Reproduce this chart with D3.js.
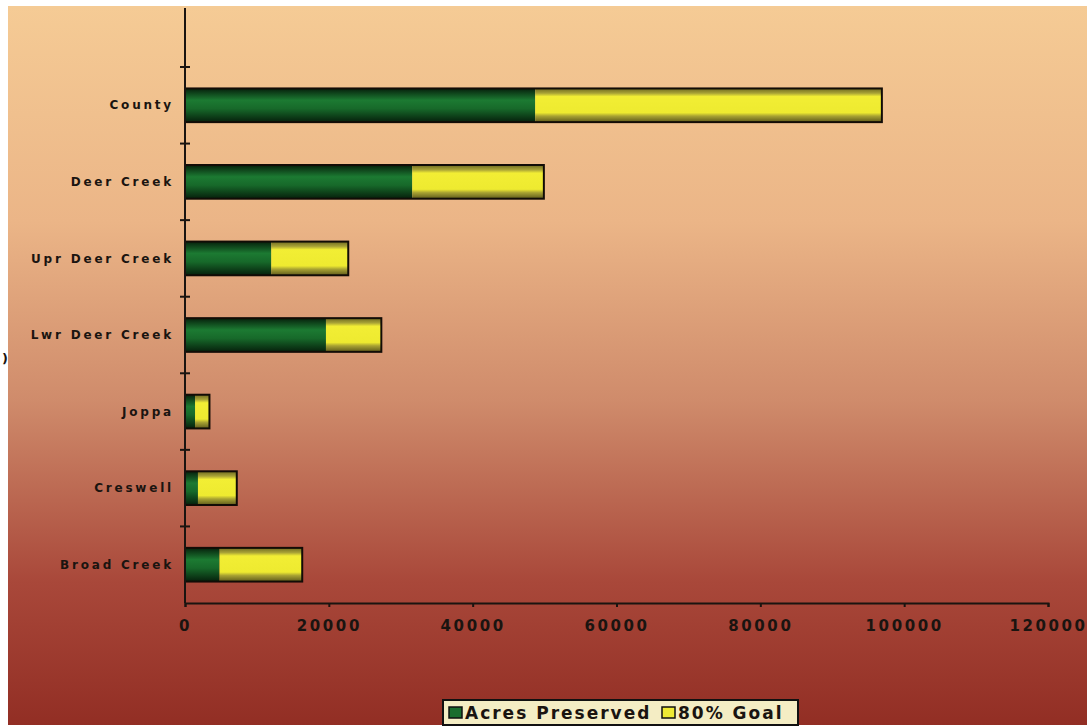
<!DOCTYPE html>
<html>
<head>
<meta charset="utf-8">
<script src="https://cdn.jsdelivr.net/npm/d3@7"></script>
<style>
  body { margin: 0; background: #fff; }
  svg { display: block; }
  text { font-family: "DejaVu Sans", sans-serif; font-weight: bold; fill: #1a1410; }
</style>
</head>
<body>
<svg id="chart" width="1087" height="727"></svg>
<script>
// data
var categories = ["County", "Deer Creek", "Upr Deer Creek", "Lwr Deer Creek", "Joppa", "Creswell", "Broad Creek"];
var acresPreserved = [48700, 31600, 12000, 19600, 1400, 1800, 4800];
var goalRemaining = [48200, 18300, 10700, 7700, 2000, 5400, 11500];
var xTicks = [0, 20000, 40000, 60000, 80000, 100000, 120000];
var seriesNames = ["Acres Preserved", "80% Goal"];

var svg = d3.select("#chart"),
    width = +svg.attr("width"),
    height = +svg.attr("height");

var defs = svg.append("defs");

// background gradient, peach to brick red
var bg = defs.append("linearGradient").attr("id", "bg")
    .attr("x1", 0).attr("y1", 0).attr("x2", 0).attr("y2", 1);
bg.append("stop").attr("offset", "0%").attr("stop-color", "#f5cb95");
bg.append("stop").attr("offset", "30%").attr("stop-color", "#ebb587");
bg.append("stop").attr("offset", "55%").attr("stop-color", "#cf8b6b");
bg.append("stop").attr("offset", "80%").attr("stop-color", "#a9483a");
bg.append("stop").attr("offset", "100%").attr("stop-color", "#922e24");

var gGreen = defs.append("linearGradient").attr("id", "gGreen")
    .attr("x1", 0).attr("y1", 0).attr("x2", 0).attr("y2", 1);
gGreen.append("stop").attr("offset", "0%").attr("stop-color", "#06200c");
gGreen.append("stop").attr("offset", "35%").attr("stop-color", "#1c7a32");
gGreen.append("stop").attr("offset", "60%").attr("stop-color", "#17692a");
gGreen.append("stop").attr("offset", "100%").attr("stop-color", "#06200c");

var gYellow = defs.append("linearGradient").attr("id", "gYellow")
    .attr("x1", 0).attr("y1", 0).attr("x2", 0).attr("y2", 1);
gYellow.append("stop").attr("offset", "0%").attr("stop-color", "#6f6a20");
gYellow.append("stop").attr("offset", "14%").attr("stop-color", "#a8a236");
gYellow.append("stop").attr("offset", "24%").attr("stop-color", "#f2ee34");
gYellow.append("stop").attr("offset", "72%").attr("stop-color", "#eeea30");
gYellow.append("stop").attr("offset", "82%").attr("stop-color", "#a8a232");
gYellow.append("stop").attr("offset", "100%").attr("stop-color", "#5e5a1c");

svg.append("rect")
    .attr("x", 8).attr("y", 6)
    .attr("width", width - 8).attr("height", 719)
    .attr("fill", "url(#bg)");

var x = d3.scaleLinear().domain([0, 120000]).range([185, 1048]);
var y = d3.scaleBand().domain(categories).range([67, 603]).paddingInner(0.56).paddingOuter(0.28);
var band = d3.scaleBand().domain(categories).range([67, 603]);

var stackData = categories.map(function(c, i) {
    return { cat: c, a: acresPreserved[i], b: goalRemaining[i] };
});
var stack = d3.stack().keys(["a", "b"])(stackData);
var fills = ["url(#gGreen)", "url(#gYellow)"];

var bars = svg.append("g");
stack.forEach(function(layer, k) {
    bars.append("g").selectAll("rect")
        .data(layer)
        .enter().append("rect")
        .attr("x", function(d) { return x(d[0]); })
        .attr("y", function(d) { return y(d.data.cat); })
        .attr("width", function(d) { return x(d[1]) - x(d[0]); })
        .attr("height", y.bandwidth())
        .attr("fill", fills[k]);
});
// dark outline round each full bar
bars.append("g").selectAll("rect")
    .data(stackData)
    .enter().append("rect")
    .attr("x", x(0))
    .attr("y", function(d) { return y(d.cat); })
    .attr("width", function(d) { return x(d.a + d.b) - x(0); })
    .attr("height", y.bandwidth())
    .attr("fill", "none")
    .attr("stroke", "#120c06")
    .attr("stroke-width", 2);

// y axis: line goes up to top of plot area
var axisColor = "#1a1410";
svg.append("line")
    .attr("x1", x(0)).attr("x2", x(0))
    .attr("y1", 8).attr("y2", 603)
    .attr("stroke", axisColor).attr("stroke-width", 2);

var yTickPos = categories.map(function(c) { return band(c); });
svg.append("g").selectAll("line")
    .data(yTickPos)
    .enter().append("line")
    .attr("x1", x(0) - 5).attr("x2", x(0) + 5)
    .attr("y1", function(d) { return d; }).attr("y2", function(d) { return d; })
    .attr("stroke", axisColor).attr("stroke-width", 2);

svg.append("g").selectAll("text")
    .data(categories)
    .enter().append("text")
    .attr("x", 174)
    .attr("y", function(d) { return band(d) + band.bandwidth() / 2; })
    .attr("dy", "0.35em")
    .attr("text-anchor", "end")
    .style("font-size", "12px")
    .style("letter-spacing", "2.8px")
    .text(function(d) { return d; });

// x axis
var xAxis = svg.append("g")
    .attr("transform", "translate(0,603)")
    .call(d3.axisBottom(x).tickValues(xTicks).tickSize(4).tickFormat(d3.format("d")));
xAxis.select(".domain").attr("stroke", axisColor).attr("stroke-width", 2);
xAxis.selectAll(".tick line").attr("stroke", axisColor).attr("stroke-width", 2);
xAxis.selectAll(".tick text")
    .attr("y", 17)
    .attr("fill", axisColor)
    .style("font-family", "'DejaVu Sans', sans-serif")
    .style("font-weight", "bold")
    .style("font-size", "15px")
    .style("letter-spacing", "2.6px");

// stray character on the left edge
svg.append("text")
    .attr("x", 2).attr("y", 363)
    .style("font-size", "13px")
    .text(")");

// legend
var legend = svg.append("g").attr("transform", "translate(443,700)");
legend.append("rect")
    .attr("width", 355).attr("height", 25)
    .attr("fill", "#f4edc4").attr("stroke", "#111").attr("stroke-width", 2);
var legendX = [6, 219];
var swatchFill = ["#1a6d2e", "#efea34"];
seriesNames.forEach(function(name, i) {
    legend.append("rect")
        .attr("x", legendX[i]).attr("y", 7)
        .attr("width", 13).attr("height", 11)
        .attr("fill", swatchFill[i])
        .attr("stroke", "#111").attr("stroke-width", 1.5);
    legend.append("text")
        .attr("x", legendX[i] + 16).attr("y", 19)
        .style("font-size", "17px")
        .style("letter-spacing", "2px")
        .text(name);
});
</script>
</body>
</html>
